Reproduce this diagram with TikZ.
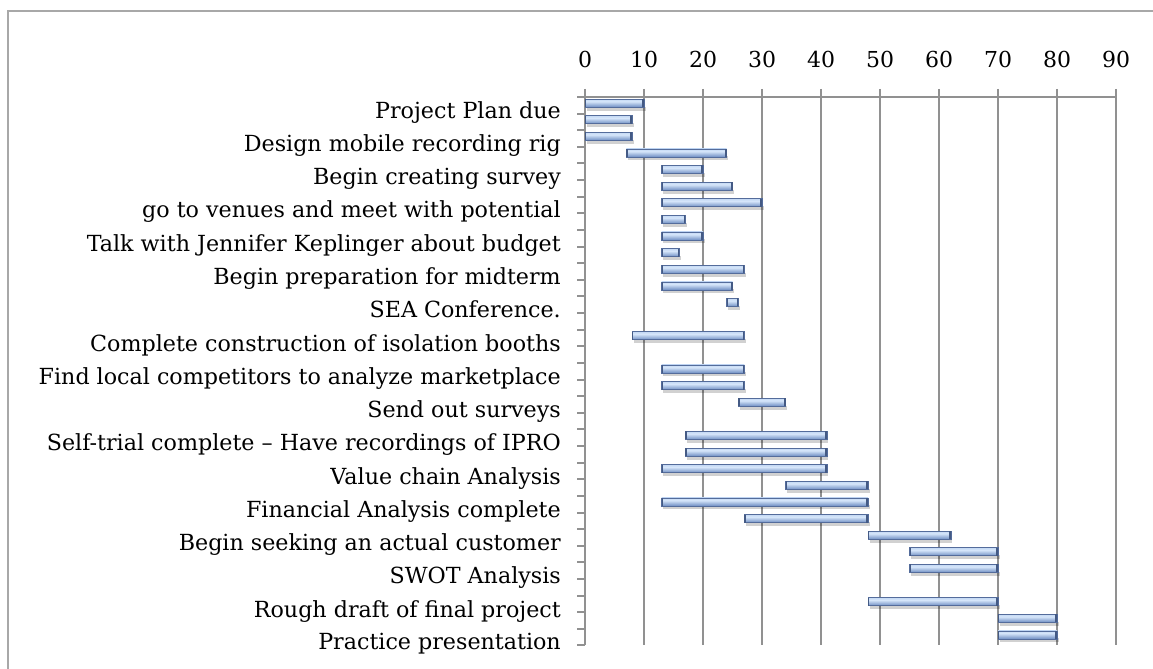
\documentclass[tikz,border=0pt]{standalone}
\usepackage{fontspec}
\setmainfont{DejaVu Serif}
\usepackage{tikz}
\usetikzlibrary{positioning}
\definecolor{framegray}{RGB}{168,168,168}
\definecolor{gridgray}{RGB}{145,145,145}
\definecolor{barline}{RGB}{84,108,155}
\definecolor{barcap}{RGB}{68,90,132}
\definecolor{bardark}{RGB}{70,96,142}
\definecolor{barmid}{RGB}{120,150,200}
\definecolor{barlight}{RGB}{214,230,250}
\definecolor{barpale}{RGB}{190,212,242}
\definecolor{bartop}{RGB}{150,180,222}
\pgfdeclareverticalshading{barshade}{100bp}{color(0bp)=(bardark); color(28bp)=(barmid); color(60bp)=(barlight); color(80bp)=(barpale); color(100bp)=(bartop)}
\tikzset{
  tasklabel/.style={anchor=base east, inner sep=0pt, font=\fontsize{22.2bp}{25bp}\selectfont},
  ticklabel/.style={anchor=base, inner sep=0pt, font=\fontsize{22bp}{25bp}\selectfont},
  gridline/.style={gridgray, line width=2bp}
}
% one bar of the chart: row, start, end
\newcommand{\taskbar}[3]{%
  \pgfmathsetmacro{\barx}{585+5.9*#2}%
  \pgfmathsetmacro{\bary}{97+(#1-0.5)*16.62-2.3}%
  \pgfmathsetmacro{\barw}{5.9*(#3-#2)}%
  \fill[black, opacity=0.18] (\barx+1.5,\bary+3.5) rectangle ++(\barw,4);
  \shade[shading=barshade, draw=barline, line width=0.6bp] (\barx,\bary-4) rectangle ++(\barw,8);
  \fill[barcap] (\barx+\barw-1.8,\bary-4) rectangle ++(1.8,8);
  \fill[barcap] (\barx,\bary-4) rectangle ++(1.2,8);
}

\begin{document}
\begin{tikzpicture}[x=1bp,y=-1bp]
 \useasboundingbox (0,0) rectangle (1153,669);
 \draw[framegray, line width=1.5bp] (8,700) -- (8,11) -- (1200,11);
 % value axis
 \foreach \i in {0,...,9} {
   \draw[gridline] (585+59*\i,89) -- (585+59*\i,645);
   \node[ticklabel] (num\i) at (585+59*\i,68) {\pgfmathparse{int(10*\i)}\pgfmathresult};
 }
 \draw[gridline] (585,97) -- (1116,97);
 % category axis
 \foreach \k in {0,...,33}
   \draw[gridline] (577,97+16.62*\k) -- (585,97+16.62*\k);
 % labels
 \node[tasklabel] (t1) at (561,105.3+13) {Project Plan due};
 \node[tasklabel] (t3) at (561,138.5+13) {Design mobile recording rig};
 \node[tasklabel] (t5) at (561,171.8+13) {Begin creating survey};
 \node[tasklabel] (t7) at (561,205.0+13) {go to venues and meet with potential};
 \node[tasklabel] (t9) at (561,238.3+13) {Talk with Jennifer Keplinger about budget};
 \node[tasklabel] (t11) at (561,271.5+13) {Begin preparation for midterm};
 \node[tasklabel] (t13) at (561,304.8+13) {SEA Conference.};
 \node[tasklabel] (t15) at (561,338.0+13) {Complete construction of isolation booths\ };
 \node[tasklabel] (t17) at (561,371.2+13) {Find local competitors to analyze marketplace};
 \node[tasklabel] (t19) at (561,404.5+13) {Send out surveys};
 \node[tasklabel] (t21) at (561,437.7+13) {Self-trial complete – Have recordings of IPRO};
 \node[tasklabel] (t23) at (561,471.0+13) {Value chain Analysis};
 \node[tasklabel] (t25) at (561,504.2+13) {Financial Analysis complete};
 \node[tasklabel] (t27) at (561,537.5+13) {Begin seeking an actual customer};
 \node[tasklabel] (t29) at (561,570.7+13) {SWOT Analysis};
 \node[tasklabel] (t31) at (561,604.0+13) {Rough draft of final project\ };
 \node[tasklabel] (t33) at (561,637.2+12) {Practice presentation};
 % bars
 \taskbar{1}{0}{10}
 \taskbar{2}{0}{8}
 \taskbar{3}{0}{8}
 \taskbar{4}{7}{24}
 \taskbar{5}{13}{20}
 \taskbar{6}{13}{25}
 \taskbar{7}{13}{30}
 \taskbar{8}{13}{17}
 \taskbar{9}{13}{20}
 \taskbar{10}{13}{16}
 \taskbar{11}{13}{27}
 \taskbar{12}{13}{25}
 \taskbar{13}{24}{26}
 \taskbar{15}{8}{27}
 \taskbar{17}{13}{27}
 \taskbar{18}{13}{27}
 \taskbar{19}{26}{34}
 \taskbar{21}{17}{41}
 \taskbar{22}{17}{41}
 \taskbar{23}{13}{41}
 \taskbar{24}{34}{48}
 \taskbar{25}{13}{48}
 \taskbar{26}{27}{48}
 \taskbar{27}{48}{62}
 \taskbar{28}{55}{70}
 \taskbar{29}{55}{70}
 \taskbar{31}{48}{70}
 \taskbar{32}{70}{80}
 \taskbar{33}{70}{80}
\end{tikzpicture}
\end{document}
